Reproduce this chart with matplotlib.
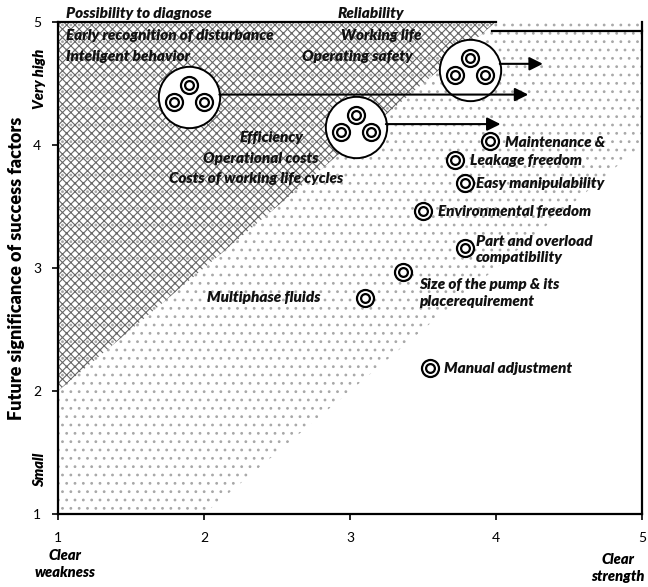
import matplotlib.pyplot as plt
import matplotlib.transforms as mtransforms

# portfolio: current strength (x) vs future significance (y)

# single success factors
single_names = ["Maintenance &", "Leakage freedom", "Easy manipulability",
                "Environmental freedom", "Part and overload\ncompatibility",
                "Size of the pump & its\nplacerequirement", "Multiphase fluids",
                "Manual adjustment"]
single_x = [3.96, 3.72, 3.79, 3.50, 3.79, 3.36, 3.10, 3.55]
single_y = [4.03, 3.88, 3.69, 3.46, 3.16, 2.97, 2.76, 2.19]

# grouped factors (big circle with three small ones) and their trend arrows
group_x = [1.90, 3.04, 3.82]
group_y = [4.39, 4.15, 4.61]
arrow_end_x = [4.22, 4.03, 4.32]
arrow_y = [4.41, 4.17, 4.66]
group_labels = [["Possibility to diagnose", "Early recognition of disturbance", "Inteligent behavior"],
                ["Efficiency", "Operational costs", "Costs of working life cycles"],
                ["Reliability", "Working life", "Operating safety"]]

# shaded zones
hatch_zone_x = [1, 1, 4]
hatch_zone_y = [2, 5, 5]
dot_zone_x = [1, 2, 5, 5, 1]
dot_zone_y = [1, 1, 4, 5, 5]

x_ticks = [1, 2, 3, 4, 5]
y_ticks = [1, 2, 3, 4, 5]

plt.rcParams['font.family'] = ['Lato', 'DejaVu Sans']
plt.rcParams['hatch.linewidth'] = 0.8

fig = plt.figure(figsize=(6.48, 5.87), dpi=100)
ax = fig.add_axes([0.0895, 0.1244, 0.9015, 0.8381])
ax.set_xlim(1, 5)
ax.set_ylim(1, 5)

# background patterns
ax.fill(dot_zone_x, dot_zone_y, facecolor='white', edgecolor='#a8a8a8',
        hatch='..', linewidth=0, zorder=0)
ax.fill(hatch_zone_x, hatch_zone_y, facecolor='none', edgecolor='#666666',
        hatch='xxxx', linewidth=0, zorder=1)

lbl = dict(fontsize=11, fontstyle='italic', fontweight='heavy', color='#111111', zorder=5)

# single factors: double circles
ax.scatter(single_x, single_y, s=150, facecolor='white', edgecolor='black', linewidth=1.6, zorder=4)
ax.scatter(single_x, single_y, s=40, facecolor='white', edgecolor='black', linewidth=1.6, zorder=4)

offsets_px = [(0, 12), (-15, -5), (15, -5)]
ax.scatter(group_x, group_y, s=1950, facecolor='white', edgecolor='black', linewidth=1.4, zorder=3)
for dx, dy in offsets_px:
    tr = mtransforms.offset_copy(ax.transData, fig=fig, x=dx, y=dy, units='dots')
    ax.scatter(group_x, group_y, s=150, facecolor='white', edgecolor='black',
               linewidth=1.6, transform=tr, zorder=4)
    ax.scatter(group_x, group_y, s=40, facecolor='white', edgecolor='black',
               linewidth=1.6, transform=tr, zorder=4)

for gx, ex, ay in zip(group_x, arrow_end_x, arrow_y):
    ax.annotate('', xy=(ex, ay), xytext=(gx + 0.205, ay),
                arrowprops=dict(arrowstyle='-|>', color='black', lw=1.5,
                                mutation_scale=20, shrinkA=0, shrinkB=0), zorder=4)

# labels of single factors
label_pos = [(4.06, 4.02), (3.82, 3.87), (3.86, 3.69), (3.60, 3.46),
             (3.86, 3.15), (3.47, 2.80), (2.02, 2.76), (3.64, 2.18)]
for name, (lx, ly) in zip(single_names, label_pos):
    ax.text(lx, ly, name, ha='left', va='center', linespacing=1.35, **lbl)

# labels of groups
g1 = group_labels[0]
ax.text(1.055, 5.07, g1[0], ha='left', va='center', clip_on=False, **lbl)
ax.text(1.055, 4.89, g1[1], ha='left', va='center', **lbl)
ax.text(1.055, 4.72, g1[2], ha='left', va='center', **lbl)
g2 = group_labels[1]
ax.text(2.46, 4.06, g2[0], ha='center', va='center', **lbl)
ax.text(2.39, 3.89, g2[1], ha='center', va='center', **lbl)
ax.text(2.36, 3.73, g2[2], ha='center', va='center', **lbl)
g3 = group_labels[2]
ax.text(3.14, 5.07, g3[0], ha='center', va='center', clip_on=False, **lbl)
ax.text(3.21, 4.89, g3[1], ha='center', va='center', **lbl)
ax.text(3.05, 4.72, g3[2], ha='center', va='center', **lbl)

# frame: top line steps down at the right
ax.spines['top'].set_visible(False)
ax.plot([1, 4.0], [5, 5], color='black', lw=1.6, clip_on=False, zorder=6)
ax.plot([3.97, 5], [4.93, 4.93], color='black', lw=1.6, clip_on=False, zorder=6)
for s in ['left', 'bottom', 'right']:
    ax.spines[s].set_linewidth(1.6)

ax.set_xticks(x_ticks)
ax.set_yticks(y_ticks)
ax.tick_params(labelsize=10, length=4, width=1.2)
ax.tick_params(axis='x', pad=9)
ax.tick_params(axis='y', pad=8)

fig.text(17 / 648, 1 - 268 / 587, "Future significance of success factors", rotation=90,
         ha='center', va='center', fontsize=13, fontweight='heavy')
side = dict(fontsize=10.5, fontstyle='italic', fontweight='heavy')
ax.text(-0.031, 0.885, "Very high", transform=ax.transAxes, rotation=90,
        ha='center', va='center', **side)
ax.text(-0.031, 0.09, "Small", transform=ax.transAxes, rotation=90,
        ha='center', va='center', **side)
ax.text(0.012, -0.102, "Clear\nweakness", transform=ax.transAxes, ha='center', va='center',
        linespacing=1.35, **side)
ax.text(0.958, -0.11, "Clear\nstrength", transform=ax.transAxes, ha='center', va='center',
        linespacing=1.35, **side)

fig.savefig("out.png", dpi=100)
